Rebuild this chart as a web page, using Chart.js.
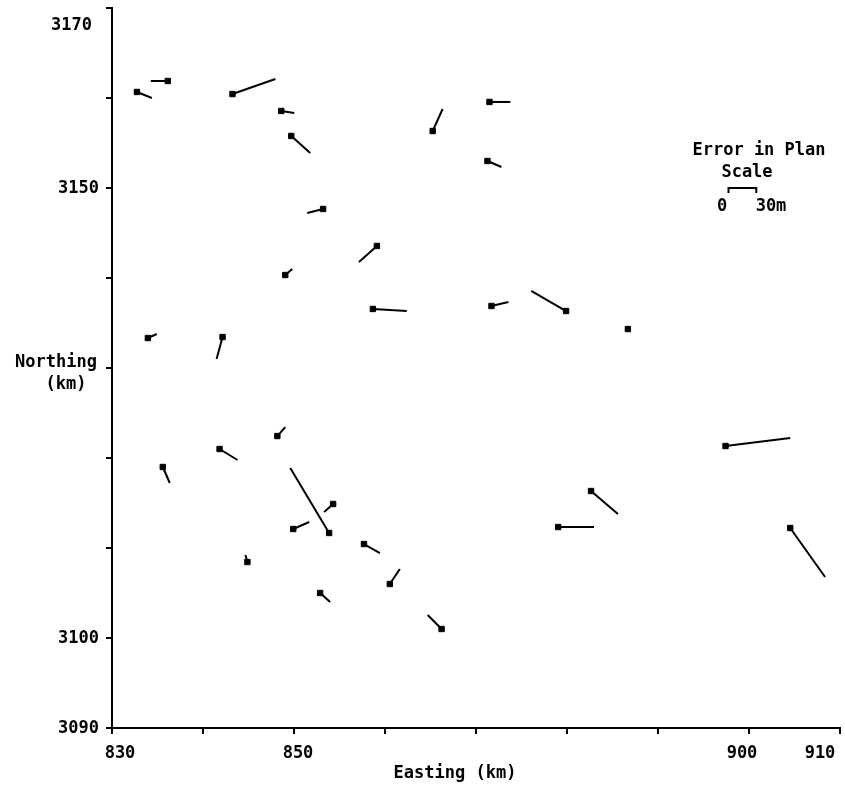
<!DOCTYPE html>
<html>
<head>
	<title>Error in Plan</title>
	<script src="https://cdn.jsdelivr.net/npm/chart.js"></script>
	<style>
		body { margin: 0; background: #fff; overflow: hidden; }
		canvas { display: block; }
	</style>
</head>
<body>
<canvas id="errChart" width="845" height="794"></canvas>
<script>
// station positions (km)
var stationE = [832.74, 836.13, 843.24, 848.60, 849.70, 853.20, 859.11, 865.24, 871.48, 871.26,
	849.04, 858.67, 833.94, 842.15, 848.17, 841.82, 835.58, 853.86, 854.30, 849.92,
	857.69, 844.88, 860.53, 852.87, 866.22, 871.70, 879.90, 886.69, 897.42, 882.64,
	879.03, 904.53];
var stationN = [3160.67, 3161.89, 3160.44, 3158.56, 3155.78, 3147.67, 3143.56, 3156.33, 3159.56, 3153.00,
	3140.33, 3136.56, 3133.33, 3133.44, 3122.44, 3121.00, 3119.00, 3111.67, 3114.89, 3112.11,
	3110.44, 3108.44, 3106.00, 3105.00, 3101.00, 3136.89, 3136.33, 3134.33, 3121.33, 3116.33,
	3112.33, 3112.22];
// other end of each error vector (drawn at the plot's exaggerated scale)
var endE = [834.38, 834.27, 847.95, 850.03, 851.78, 851.45, 857.14, 866.33, 873.78, 872.79,
	849.81, 862.39, 834.92, 841.49, 849.04, 843.79, 836.35, 849.59, 853.31, 851.67,
	859.44, 844.66, 861.63, 853.97, 864.69, 873.56, 876.07, 886.69, 904.53, 885.60,
	882.97, 908.36];
var endN = [3160.00, 3161.89, 3162.11, 3158.33, 3153.89, 3147.22, 3141.78, 3158.78, 3159.56, 3152.33,
	3141.00, 3136.33, 3133.78, 3131.00, 3123.44, 3119.78, 3117.22, 3118.89, 3114.00, 3112.89,
	3109.44, 3109.22, 3107.67, 3104.00, 3102.56, 3137.33, 3138.56, 3134.33, 3122.22, 3113.78,
	3112.33, 3106.78];

var xLabels = [830, 850, 900, 910];
var yLabels = [3090, 3100, 3150, 3170];

// 30 m scale bar, in plot units
var scaleBarE = [897.75, 900.8];
var scaleBarN = 3150;

var FONT = 'bold 17px "DejaVu Sans Mono"';

var datasets = [];
for (var i = 0; i < stationE.length; i++) {
	datasets.push({
		data: [{x: stationE[i], y: stationN[i]}, {x: endE[i], y: endN[i]}],
		borderColor: '#000',
		backgroundColor: '#000',
		borderWidth: 2,
		showLine: true,
		pointStyle: 'rect',
		pointRadius: [3.8, 0],
		pointBorderWidth: 1
	});
}

var textPlugin = {
	id: 'textPlugin',
	afterDraw: function(chart) {
		var ctx = chart.ctx;
		var xs = chart.scales.x;
		var ys = chart.scales.y;
		ctx.save();
		ctx.fillStyle = '#000';
		ctx.strokeStyle = '#000';
		ctx.font = FONT;
		ctx.textBaseline = 'middle';

		// y tick labels
		ctx.textAlign = 'right';
		yLabels.forEach(function(v) {
			var py = ys.getPixelForValue(v);
			if (v == 3170) ctx.fillText(v, 92, py + 18);
			else ctx.fillText(v, 99, py + 1);
		});

		// x tick labels, nudged like the original
		var nudge = {830: 8, 850: 4, 900: -7, 910: -20};
		ctx.textAlign = 'center';
		xLabels.forEach(function(v) {
			ctx.fillText(v, xs.getPixelForValue(v) + nudge[v], 754);
		});

		// axis titles
		ctx.fillText('Easting (km)', 455, 774);
		ctx.fillText('Northing', 56, 363);
		ctx.fillText('(km)', 66, 385);

		// scale key
		var x0 = xs.getPixelForValue(scaleBarE[0]);
		var x1 = xs.getPixelForValue(scaleBarE[1]);
		var yb = ys.getPixelForValue(scaleBarN);
		ctx.fillText('Error in Plan', 759, 151);
		ctx.fillText('Scale', 747, 173);
		ctx.fillText('0', 722, 207);
		ctx.fillText('30m', 771, 207);
		ctx.lineWidth = 2;
		ctx.beginPath();
		ctx.moveTo(x0, yb + 5);
		ctx.lineTo(x0, yb);
		ctx.lineTo(x1, yb);
		ctx.lineTo(x1, yb + 5);
		ctx.stroke();
		ctx.restore();
	}
};

new Chart(document.getElementById('errChart'), {
	type: 'scatter',
	data: { datasets: datasets },
	options: {
		responsive: false,
		animation: false,
		devicePixelRatio: 1,
		layout: { padding: { top: 8, right: 2, left: 0, bottom: 0 } },
		plugins: { legend: { display: false }, tooltip: { enabled: false } },
		scales: {
			x: {
				type: 'linear', min: 830, max: 910,
				ticks: { stepSize: 10, display: false },
				grid: { drawOnChartArea: false, tickLength: 6, color: '#000', lineWidth: 2 },
				border: { color: '#000', width: 2 },
				afterFit: function(s) { s.height = 66; }
			},
			y: {
				type: 'linear', min: 3090, max: 3170,
				ticks: { stepSize: 10, display: false },
				grid: { drawOnChartArea: false, tickLength: 6, color: '#000', lineWidth: 2 },
				border: { color: '#000', width: 2 },
				afterFit: function(s) { s.width = 112; }
			}
		}
	},
	plugins: [textPlugin]
});
</script>
</body>
</html>
